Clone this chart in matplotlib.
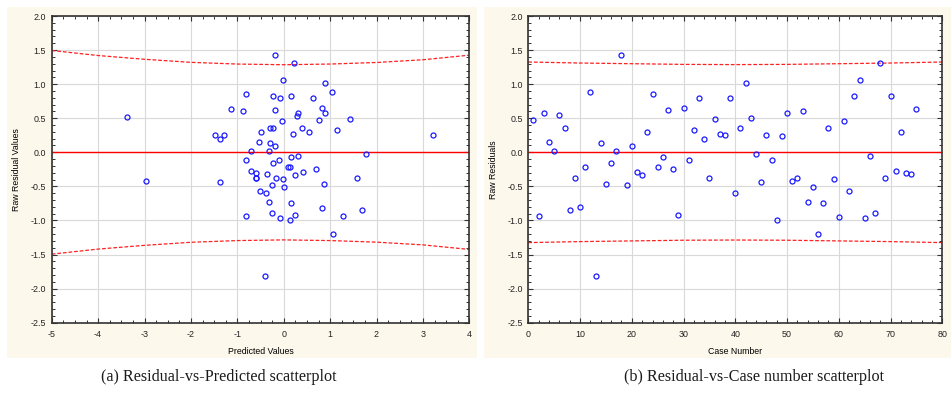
import numpy as np
import matplotlib as mpl
mpl.use('Agg')
import matplotlib.pyplot as plt
from matplotlib.patches import Rectangle
from matplotlib.ticker import MultipleLocator

# Predicted values and raw residuals (left panel)
pred = [-3.38, -2.97, 3.21,
        -0.18, 0.23, -0.01, 0.90, 1.04, -0.82, -0.22, 0.15, -0.07, 0.63,
        -1.13, -0.88, -0.19, 0.83, 0.89, 0.30, 0.28, -0.03, 0.75, 1.43,
        -1.49, -1.28, -1.37, -0.50, -0.29, -0.24, 0.40, 0.19, 0.55, 1.14,
        -0.53, -0.30, -0.19, -0.70, -0.32, 1.78, -0.82, -0.10, -0.22, 0.16,
        0.31, 0.10, 0.13, -0.70, -0.60, -0.60, -0.60, -0.37, -0.16, -0.01,
        0.24, 0.42, 0.69, 1.58, -1.37, -0.25, 0.00, 0.86, -0.51, -0.38,
        -0.31, 0.15, 0.83, 1.68, -0.81, -0.25, -0.07, 0.24, 0.13, 1.28,
        1.06, -0.40]
resid_pred = [0.52, -0.42, 0.25,
              1.43, 1.31, 1.06, 1.01, 0.88, 0.86, 0.82, 0.83, 0.79, 0.80,
              0.635, 0.61, 0.62, 0.655, 0.58, 0.58, 0.54, 0.455, 0.47, 0.49,
              0.26, 0.26, 0.19, 0.30, 0.35, 0.36, 0.35, 0.27, 0.30, 0.33,
              0.147, 0.137, 0.088, 0.015, 0.015, -0.02, -0.11, -0.12, -0.16, -0.064,
              -0.054, -0.21, -0.22, -0.28, -0.30, -0.37, -0.38, -0.32, -0.37, -0.39,
              -0.33, -0.29, -0.24, -0.38, -0.435, -0.48, -0.51, -0.46, -0.57, -0.59,
              -0.73, -0.74, -0.81, -0.84, -0.93, -0.895, -0.96, -0.92, -1.0, -0.94,
              -1.20, -1.81]

# Raw residuals by case number (right panel)
case_no = list(range(1, 76))
resid_case = [0.47, -0.93, 0.58, 0.147, 0.015, 0.55, 0.35, -0.84, -0.37, -0.80,
              -0.21, 0.88, -1.81, 0.137, -0.46, -0.16, 0.015, 1.43, -0.48, 0.088,
              -0.29, -0.33, 0.30, 0.86, -0.22, -0.064, 0.62, -0.24, -0.92, 0.655,
              -0.11, 0.33, 0.80, 0.19, -0.37, 0.49, 0.27, 0.25, 0.79, -0.59,
              0.35, 1.01, 0.51, -0.02, -0.435, 0.26, -0.12, -1.0, 0.235, 0.58,
              -0.42, -0.38, 0.61, -0.73, -0.51, -1.20, -0.74, 0.36, -0.39, -0.95,
              0.455, -0.57, 0.83, 1.06, -0.96, -0.054, -0.895, 1.31, -0.37, 0.82,
              -0.28, 0.30, -0.30, -0.32, 0.635]

# 95% bands (upper half, lower is mirrored)
band_pred_x = [-5, -4, -3, -2, -1, 0, 1, 2, 3, 4]
band_pred_y = [1.494, 1.42, 1.365, 1.32, 1.295, 1.285, 1.295, 1.318, 1.358, 1.425]
band_case_x = [0, 10, 20, 30, 40, 50, 60, 70, 80]
band_case_y = [1.325, 1.31, 1.30, 1.29, 1.287, 1.29, 1.30, 1.31, 1.325]

plt.rcParams['font.family'] = ['Liberation Sans', 'DejaVu Sans']
plt.rcParams['axes.unicode_minus'] = False

W, H = 951, 408
fig = plt.figure(figsize=(W / 100, H / 100), dpi=100)
fig.patch.set_facecolor('white')

# cream page behind each sub-figure
cream = '#fdf8ec'
for x0, w in [(7, 470), (484, 467)]:
    fig.patches.append(Rectangle((x0 / W, 1 - 358 / H), w / W, 351 / H,
                                 transform=fig.transFigure, facecolor=cream,
                                 edgecolor='none', zorder=-5))

def px_axes(x0, x1, y0, y1):
    return fig.add_axes([x0 / W, 1 - y1 / H, (x1 - x0) / W, (y1 - y0) / H], zorder=2)

def style(ax, xmajor, xminor):
    ax.set_facecolor('white')
    ax.set_ylim(-2.5, 2.0)
    ax.yaxis.set_major_locator(MultipleLocator(0.5))
    ax.yaxis.set_minor_locator(MultipleLocator(0.1))
    ax.xaxis.set_major_locator(MultipleLocator(xmajor))
    ax.xaxis.set_minor_locator(MultipleLocator(xminor))
    ax.yaxis.set_major_formatter(plt.FuncFormatter(lambda v, p: f'{v:.1f}'))
    ax.grid(True, which='major', color='#d9d9d9', lw=0.8)
    ax.set_axisbelow(True)
    for s in ax.spines.values():
        s.set_color('#333333')
        s.set_linewidth(1.2)
    ax.tick_params(which='both', direction='in', top=True, right=True,
                   labelsize=6.4, colors='#333333', labelcolor='#222222')
    ax.tick_params(axis='x', pad=5)
    ax.tick_params(axis='y', pad=4)
    ax.tick_params(which='major', length=3.5, width=0.8)
    ax.tick_params(which='minor', length=2, width=0.7)

mk = dict(ls='none', marker='o', ms=3.6, mfc='none', mec='#1a1aff', mew=0.9, zorder=3)
dash = dict(color='#ff2020', lw=0.9, dashes=(3, 1.5), zorder=2)

# (a) residual vs predicted
ax1 = px_axes(51.7, 469.3, 16, 322.7)
style(ax1, 1, 0.25)
ax1.set_xlim(-5, 4)
ax1.axhline(0, color='red', lw=1.0, zorder=2)
ax1.plot(band_pred_x, band_pred_y, **dash)
ax1.plot(band_pred_x, [-v for v in band_pred_y], **dash)
ax1.plot(pred, resid_pred, **mk)
ax1.set_xlabel('Predicted Values', fontsize=6.3, labelpad=6)
ax1.set_ylabel('Raw Residual Values', fontsize=6.3, labelpad=7)

# (b) residual vs case number
ax2 = px_axes(528.3, 942.3, 16, 322.7)
style(ax2, 10, 2)
ax2.set_xlim(0, 80)
ax2.axhline(0, color='red', lw=1.0, zorder=2)
ax2.plot(band_case_x, band_case_y, **dash)
ax2.plot(band_case_x, [-v for v in band_case_y], **dash)
ax2.plot(case_no, resid_case, **mk)
ax2.set_xlabel('Case Number', fontsize=6.3, labelpad=6)
ax2.set_ylabel('Raw Residuals', fontsize=6.3, labelpad=7)

cap = dict(fontsize=11.6, family=['Liberation Serif', 'DejaVu Serif'], color='#1a1a1a',
           ha='center', va='center')
fig.text(218.5 / W, 1 - 377 / H, '(a) Residual-vs-Predicted scatterplot', **cap)
fig.text(754 / W, 1 - 377 / H, '(b) Residual-vs-Case number scatterplot', **cap)

plt.savefig('out.png', dpi=100)
